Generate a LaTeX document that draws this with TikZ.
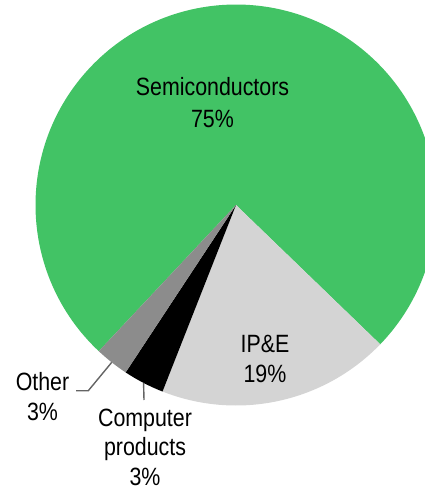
\documentclass[tikz,border=0pt]{standalone}
\usepackage{fontspec}
\setmainfont{Liberation Sans}[FakeStretch=0.855]
\usetikzlibrary{calc}
\definecolor{semigreen}{RGB}{66,195,101}
\definecolor{ipegray}{RGB}{212,212,212}
\definecolor{othergray}{RGB}{140,140,140}
\definecolor{leadergray}{RGB}{100,100,100}
\tikzset{
  lbl/.style={align=center, inner sep=0pt, anchor=base, text=black,
    font=\fontsize{25}{30}\selectfont},
  leader/.style={draw=leadergray, line width=1.4pt}
}
\begin{document}
\begin{tikzpicture}[x=1pt, y=-1pt]
\useasboundingbox (0,0) rectangle (425,491);
\coordinate (c) at (236,205);
\def\r{200.5}
% slices (angles measured clockwise from the right, y pointing down)
\fill[semigreen] (c) -- ++(133.2:\r) arc[start angle=133.2, end angle=404, radius=\r] -- cycle;
\fill[ipegray] (c) -- ++(44:\r) arc[start angle=44, end angle=111.5, radius=\r] -- cycle;
\fill[black] (c) -- ++(111.5:\r) arc[start angle=111.5, end angle=123.4, radius=\r] -- cycle;
\fill[othergray] (c) -- ++(123.4:\r) arc[start angle=123.4, end angle=133.2, radius=\r] -- cycle;
% labels (anchored at the baseline of their last line)
\node[lbl, font=\fontsize{25}{32}\selectfont] (semi) at (212.5,127) {Semiconductors\\75\%};
\node[lbl] (ipe) at (265,382) {IP\&E\\19\%};
\node[lbl] (other) at (42.5,420.7) {Other\\3\%};
\node[lbl, font=\fontsize{25}{29.5}\selectfont] (comp) at (145,485) {Computer\\products\\3\%};
% leader lines
\coordinate (otherTip) at ($(c)+(128.3:\r)$);
\coordinate (otherStart) at (76,390.7);
\coordinate (otherBend) at (88.3,390.7);
\coordinate (compTip) at ($(c)+(117.45:\r)$);
\coordinate (compEnd) at (144,400);
\draw[leader] (otherStart) -- (otherBend) -- (otherTip);
\draw[leader] (compTip) -- (compEnd);
\end{tikzpicture}
\end{document}
